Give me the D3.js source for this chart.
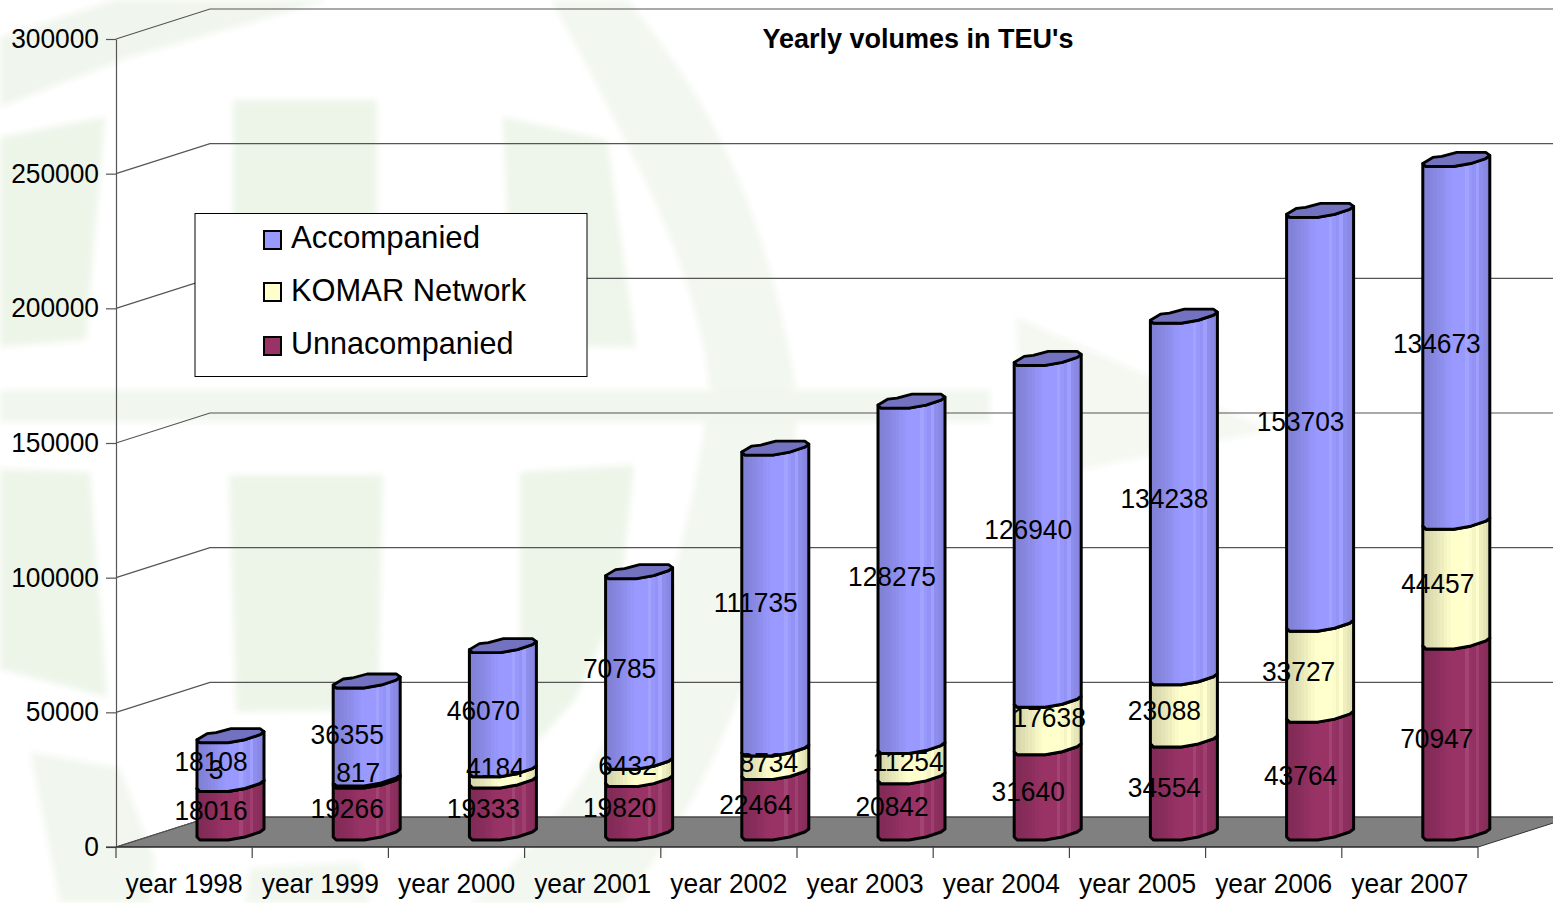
<!DOCTYPE html>
<html><head><meta charset="utf-8">
<script src="https://cdnjs.cloudflare.com/ajax/libs/d3/7.8.5/d3.min.js"></script>
<style>
html,body{margin:0;padding:0;background:#fff;overflow:hidden}
svg{display:block}
text{font-family:"Liberation Sans",Arial,sans-serif;fill:#000}
</style></head><body>
<svg id="c" width="1553" height="903"></svg>
<script>
// ---- data ----
const years = ["year 1998","year 1999","year 2000","year 2001","year 2002","year 2003","year 2004","year 2005","year 2006","year 2007"];
const unaccompanied = [18016,19266,19333,19820,22464,20842,31640,34554,43764,70947];
const komar = [3,817,4184,6432,8734,11254,17638,23088,33727,44457];
const accompanied = [18108,36355,46070,70785,111735,128275,126940,134238,153703,134673];
const yTicks = [0,50000,100000,150000,200000,250000,300000];
const seriesNames = ["Accompanied","KOMAR Network","Unnacompanied"];
const seriesColors = {Accompanied:"#9999ff","KOMAR Network":"#ffffcc",Unnacompanied:"#993366"};
const title = "Yearly volumes in TEU's";

// ---- layout / style constants ----
const depthX=94, depthY=30;
const komarNudgeX=[-15,-9,-8,-12,-7,-4,1,-20,-22,-19];
const komarNudgeY=[-16,-9,-9,-7,0,-2,-8,0,0,0];
const accNudgeY=[0,3,1,0,2,1,-1,0,3,1];
const frontCurve=[[0,0],[3,3],[31,3],[48,0],[63,-5],[67,-8]];
const backCurve=[[67,-8],[63,-11],[34,-11],[19,-7],[10,-6],[0,0]];
const shades=[.84,.85,.87,.89,.91,.93,.96,.98,1,1,1,1,1.03,.99,.96,1.02,.93,.9,.87];
const legendSquash=[.975,.965,.955];

const svg=d3.select("#c");
const x=d3.scaleBand().domain(years).range([116,1478]);
const y=d3.scaleLinear().domain([0,300000]).range([847,39]);
const defs=svg.append("defs");
defs.append("filter").attr("id","soft").attr("x","-10%").attr("y","-10%").attr("width","120%").attr("height","120%")
  .append("feGaussianBlur").attr("stdDeviation",3);

// ---- watermark ----
const wm=[
 {c:"#edf5e9",p:"M0,137L105,117L86,340L0,347Z"},
 {c:"#edf5e9",p:"M233,100L377,100L377,240L233,240Z"},
 {c:"#eef5ea",p:"M503,117L607,140L636,347L513,345Z"},
 {c:"#edf5e9",p:"M679,168L748,357L710,350Z"},
 {c:"#f2f7ef",p:"M628,0C690,80 760,170 796,390C800,560 730,780 620,903L470,903C560,830 670,700 710,390C700,290 650,190 640,170C610,110 580,50 551,0Z"},
 {c:"#f0f6ed",p:"M115,0L330,0L130,57L0,107L0,37Z"},
 {c:"#f1f7ee",p:"M0,390L990,390L990,422L0,422Z"},
 {c:"#edf5e9",p:"M0,469L90,472L107,697L0,669Z"},
 {c:"#edf5e9",p:"M229,475L383,475L378,710L236,712Z"},
 {c:"#edf5e9",p:"M520,472L634,465L620,600L575,700L520,760Z"},
 {c:"#f1f7ee",p:"M30,752L120,768L155,860L150,903L60,903Z"},
 {c:"#f1f7ee",p:"M250,868L360,862L370,903L245,903Z"},
 {c:"#f4f8f1",p:"M1016,317L1270,430L1080,470L1020,400Z"}
];
svg.append("g").attr("filter","url(#soft)").selectAll("path").data(wm).join("path").attr("d",d=>d.p).attr("fill",d=>d.c);

// ---- floor and walls ----
const farRight=1478+depthX;
svg.append("path")
  .attr("d",d3.line()([[116,y(0)],[116+depthX,y(0)-depthY],[farRight,y(0)-depthY],[1478,y(0)]])+"Z")
  .attr("fill","#808080").attr("stroke","#333").attr("stroke-width",1);
const wall=svg.append("g").attr("fill","none").attr("stroke","#555").attr("stroke-width",1.2);
wall.selectAll("path").data(yTicks).join("path")
  .attr("d",t=>d3.line()([[116,y(t)],[116+depthX,y(t)-depthY],[farRight,y(t)-depthY]]));

// ---- axes ----
const ya=svg.append("g").attr("transform","translate(116,0)")
  .call(d3.axisLeft(y).tickValues(yTicks).tickFormat(d3.format("d")).tickSize(10).tickSizeOuter(0).tickPadding(7));
ya.select(".domain").attr("stroke","#555").attr("stroke-width",1.2);
ya.selectAll("line").attr("stroke","#555").attr("stroke-width",1.2);
ya.selectAll("text").attr("class","sq").attr("font-size",28).attr("dy",null).attr("y",8.5).attr("font-family","Liberation Sans");

const xa=svg.append("g").attr("transform",`translate(0,${y(0)})`)
  .call(d3.axisBottom(x).tickSize(0).tickPadding(0));
xa.select(".domain").remove();
xa.selectAll("text").attr("class","sq").attr("font-size",28).attr("dy",null).attr("y",46).attr("font-family","Liberation Sans");
const edges=years.map(d=>x(d)).concat([x.range()[1]]);
svg.append("path").attr("d",d3.line()([[106,y(0)],[1478,y(0)]])).attr("stroke","#222").attr("stroke-width",1.2).attr("fill","none");
svg.append("g").selectAll("line").data(edges).join("line")
  .attr("x1",d=>d).attr("x2",d=>d).attr("y1",y(0)).attr("y2",y(0)+11)
  .attr("stroke","#444").attr("stroke-width",1.2);

// ---- gradients ----
function gradient(id,color){
  const g=defs.append("linearGradient").attr("id",id).attr("x1",0).attr("x2",1).attr("y1",0).attr("y2",0);
  const n=shades.length;
  shades.forEach((s,i)=>{
    const col=s<=1?d3.interpolateRgb("#000",color)(s):d3.interpolateRgb(color,"#fff")((s-1)*3);
    g.append("stop").attr("offset",i/n).attr("stop-color",col);
    g.append("stop").attr("offset",(i+1)/n).attr("stop-color",col);
  });
}
gradient("g0",seriesColors.Unnacompanied);
gradient("g1",seriesColors["KOMAR Network"]);
gradient("g2",seriesColors.Accompanied);

// ---- bars ----
const stackData=years.map((yr,i)=>({yr,Unn:unaccompanied[i],Kom:komar[i],Acc:accompanied[i]}));
const stack=d3.stack().keys(["Unn","Kom","Acc"])(stackData);
const barLeft=d=>x(d)+81, lift=10;
const barG=svg.append("g");
const line=d3.line();
stack.forEach((layer,si)=>{
  barG.append("g").selectAll("path").data(layer).join("path")
   .attr("d",d=>{
     const L=barLeft(d.data.yr), b=y(d[0])-lift, t=y(d[1])-lift;
     const top=frontCurve.map(p=>[L+p[0],t+p[1]]);
     const bot=frontCurve.slice().reverse().map(p=>[L+p[0],b+p[1]]);
     return line(top.concat(bot))+"Z";
   })
   .attr("fill",`url(#g${si})`).attr("stroke","#000").attr("stroke-width",3).attr("stroke-linejoin","round");
});
// caps
barG.append("g").selectAll("path").data(stack[2]).join("path")
  .attr("d",d=>{
    const L=barLeft(d.data.yr), t=y(d[1])-lift;
    return line(frontCurve.concat(backCurve.slice(1)).map(p=>[L+p[0],t+p[1]]))+"Z";
  })
  .attr("fill","#7272c0").attr("stroke","#000").attr("stroke-width",2.8).attr("stroke-linejoin","round");

// ---- data labels ----
const lab=svg.append("g").attr("text-anchor","middle").attr("font-size",28);
stack.forEach((layer,si)=>{
  lab.append("g").selectAll("text").data(layer).join("text").attr("class","sq")
   .attr("x",(d,i)=>barLeft(d.data.yr)+34+(si===1?komarNudgeX[i]:-20))
   .attr("y",(d,i)=>(y(d[0])+y(d[1]))/2-12+9+(si===1?komarNudgeY[i]:si===2?accNudgeY[i]:0))
   .text(d=>d[1]-d[0]);
});

// ---- legend ----
const lg=svg.append("g");
lg.append("rect").attr("x",195).attr("y",213.5).attr("width",392).attr("height",163)
  .attr("fill","#fff").attr("stroke","#000").attr("stroke-width",1);
const legendY=[231,283,337], legendBase=[248,301,354];
const item=lg.selectAll("g").data(seriesNames).join("g");
item.append("rect").attr("x",264).attr("y",(d,i)=>legendY[i]).attr("width",17).attr("height",18)
  .attr("fill",d=>seriesColors[d]).attr("stroke","#000").attr("stroke-width",2);
item.append("text").attr("class","sq2").attr("x",291).attr("y",(d,i)=>legendBase[i]).attr("font-size",32).text(d=>d);

// ---- title ----
svg.append("text").attr("x",918).attr("y",48).attr("text-anchor","middle")
  .attr("font-size",27).attr("font-weight","bold").text(title);

// narrow the glyphs slightly, as in the reference
svg.selectAll("text.sq").each(function(){const l=this.getComputedTextLength();d3.select(this).attr("textLength",l*.94).attr("lengthAdjust","spacingAndGlyphs");});
svg.selectAll("text.sq2").each(function(d,i){const l=this.getComputedTextLength();d3.select(this).attr("textLength",l*legendSquash[i]).attr("lengthAdjust","spacingAndGlyphs");});
</script>
</body></html>
